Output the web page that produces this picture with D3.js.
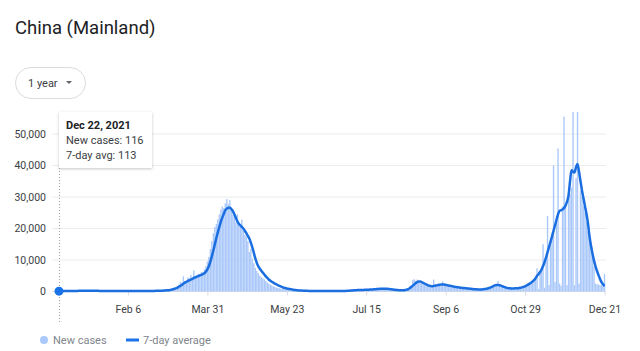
<!DOCTYPE html>
<html>
<head>
<meta charset="utf-8">
<script src="https://cdn.jsdelivr.net/npm/d3@7"></script>
<style>
  body { margin: 0; background: #fff; font-family: Roboto, Arial, sans-serif; }
</style>
</head>
<body>
<svg id="chart" width="640" height="351"></svg>
<script>
// Daily new cases, Dec 22 2021 .. Dec 21 2022 (one array per month)
const casesDec2021 = [116,150,180,200,210,230,220,240,200,210];
const casesJan = [190,180,200,220,210,230,250,240,220,200,190,210,230,220,200,180,170,190,210,200,180,160,150,170,190,180,160,150,140,130,120];
const casesFeb = [110,100,120,140,130,150,170,160,140,130,120,140,160,170,150,130,120,140,160,180,200,220,250,270,300,280,260,240];
const casesMar = [230,250,300,350,450,500,700,900,1100,1300,1500,2200,3100,2500,4800,3300,3200,4500,3900,5200,4400,6700,4800,5000,5600,5300,6200,6000,7000,8000,9500];
const casesApr = [11000,13500,16000,18500,20500,21500,23000,24500,26000,27000,26500,28000,29400,27800,29000,26000,24500,23800,22000,24500,21500,20500,22800,19500,18000,17500,16000,12500,13500,10500];
const casesMay = [9000,7500,6500,5800,5000,4500,4200,3800,3300,2800,2500,2200,1900,1700,1500,1300,1100,1000,900,800,700,600,550,500,450,400,350,300,280,250,230];
const casesJun = [200,180,170,150,160,150,140,130,120,110,120,110,100,100,110,120,130,120,110,120,130,150,140,120,110,100,120,140,160,180];
const casesJul = [200,250,300,350,400,380,420,450,500,550,520,480,450,500,550,600,650,700,750,800,850,900,950,1000,900,850,800,750,700,650,600];
const casesAug = [550,500,450,400,380,350,330,320,350,400,600,900,1500,2000,3600,3900,3400,3800,3000,2700,2500,2300,2100,1900,1800,1600,1500,1700,3800,1600,1700];
const casesSep = [1900,2100,2300,3200,2100,2000,1900,1800,1700,1600,1500,1400,1300,1300,1200,1100,1100,1000,950,900,850,800,750,700,650,650,600,600,600,650];
const casesOct = [700,800,900,1000,1200,1500,1800,2100,2300,2400,3400,2000,1700,1500,1300,1200,1100,1000,950,1000,1000,1050,1100,1200,1300,1400,1600,1800,2100,2300,2600];
const casesNov = [2400,2800,2700,3300,3900,7400,800,5500,6800,15000,1200,10000,24000,2000,16000,18500,40000,3000,22000,45400,2500,1800,27000,55500,27500,2000,30000,31000,33000,57000];
const casesDec2022 = [2000,36000,57000,2500,32000,30000,27000,25000,22000,19000,16000,14000,12000,8000,2500,2300,2200,2000,2000,1800,5600];

// 7-day average, same days
const avgDec2021 = [113,115,120,130,140,150,160,170,175,180];
const avgJan = [185,190,195,200,205,210,212,214,212,210,208,206,205,204,203,202,200,198,196,195,192,188,184,180,176,172,168,164,160,156,152];
const avgFeb = [148,145,142,140,138,137,136,136,137,138,139,140,141,142,143,144,145,147,150,155,160,170,180,195,210,225,240,255];
const avgMar = [270,290,320,360,420,500,600,720,860,1000,1200,1500,1800,2100,2500,2800,3100,3300,3600,3800,4000,4300,4500,4700,4900,5100,5300,5500,5800,6300,7000];
const avgApr = [8000,9500,11200,13000,15000,17000,18800,20500,22200,23500,24700,25800,26300,26600,26600,26200,25500,24500,23400,22300,21500,21000,20500,20000,19300,18500,17700,16800,15500,14000];
const avgMay = [12300,10500,9100,8000,7200,6600,6000,5400,4800,4300,3800,3400,3100,2800,2500,2300,2000,1800,1600,1400,1200,1100,950,850,800,700,600,500,450,400,350];
const avgJun = [320,290,260,240,220,200,190,180,170,160,150,145,140,135,130,130,130,130,130,130,130,135,140,140,135,130,130,135,140,150];
const avgJul = [170,200,230,270,310,350,380,410,440,470,490,500,510,520,540,560,590,620,650,680,720,760,800,840,880,900,900,880,850,800,740];
const avgAug = [680,610,550,490,440,400,370,360,380,450,580,780,1050,1400,1800,2250,2650,2950,3150,3150,3000,2750,2500,2250,2000,1850,1750,1650,1750,1850,1950];
const avgSep = [2050,2150,2250,2250,2200,2100,2000,1900,1800,1700,1600,1500,1400,1350,1300,1200,1150,1100,1050,1000,950,900,850,800,750,700,680,660,650,660];
const avgOct = [700,760,850,950,1100,1300,1500,1750,1950,2100,2100,2000,1850,1650,1450,1300,1150,1050,1000,980,980,1000,1020,1050,1100,1200,1300,1450,1650,1900,2200];
const avgNov = [2500,2800,3200,3600,4200,5000,5500,6200,7000,8100,9300,10800,12500,14200,15800,17500,19300,21000,22800,24500,25600,25800,26000,26500,27300,28500,30500,35000,38500,38000];
const avgDec2022 = [37800,39500,40500,38000,35000,32000,29500,27000,24500,21500,17500,14500,12000,9800,8000,6500,5200,4000,3000,2300,1700];

const yTicks = [0, 10000, 20000, 30000, 40000, 50000];
const xTickLabels = ["2022-02-06", "2022-03-31", "2022-05-23", "2022-07-15", "2022-09-06", "2022-10-29", "2022-12-21"];
const firstDay = "2021-12-22";

const newCases = [].concat(casesDec2021, casesJan, casesFeb, casesMar, casesApr, casesMay,
  casesJun, casesJul, casesAug, casesSep, casesOct, casesNov, casesDec2022);
const avgCases = [].concat(avgDec2021, avgJan, avgFeb, avgMar, avgApr, avgMay,
  avgJun, avgJul, avgAug, avgSep, avgOct, avgNov, avgDec2022);

const parse = d3.timeParse("%Y-%m-%d");
const start = parse(firstDay);
const data = newCases.map((v, i) => ({ date: d3.timeDay.offset(start, i), cases: v, avg: avgCases[i] }));

const svg = d3.select("#chart");

// Title and range dropdown
svg.append("text")
  .attr("x", 15).attr("y", 34)
  .style("font-size", "18.5px")
  .attr("fill", "#202124")
  .text("China (Mainland)");

svg.append("rect")
  .attr("x", 15.5).attr("y", 67.5).attr("width", 70).attr("height", 31).attr("rx", 15.5)
  .attr("fill", "#fff").attr("stroke", "#dadce0");
svg.append("text")
  .attr("x", 28).attr("y", 86.5)
  .style("font-size", "11px").attr("fill", "#3c4043")
  .text("1 year");
svg.append("path").attr("d", "M66,81L72,81L69,84Z").attr("fill", "#5f6368");

// Scales
const x = d3.scaleTime()
  .domain([start, data[data.length - 1].date])
  .range([59, 604.5]);
const y = d3.scaleLinear()
  .domain([0, 60000])
  .range([291.5, 102.5]);

// Gridlines
svg.append("g")
  .selectAll("line")
  .data(yTicks)
  .enter()
  .append("line")
  .attr("x1", 52).attr("x2", 606)
  .attr("y1", d => y(d)).attr("y2", d => y(d))
  .attr("stroke", d => d === 0 ? "#e0e0e0" : "#ececec")
  .attr("stroke-width", 1);

// Y axis labels
const yAxis = svg.append("g")
  .attr("transform", "translate(52,0)")
  .call(d3.axisLeft(y).tickValues(yTicks).tickFormat(d3.format(",")).tickSize(0).tickPadding(6));
yAxis.select(".domain").remove();
yAxis.selectAll("text")
  .style("font-family", "Roboto, Arial, sans-serif")
  .style("font-size", "10.5px")
  .attr("fill", "#3c4043");

// X axis
const xAxis = svg.append("g")
  .attr("transform", `translate(0,${y(0)})`)
  .call(d3.axisBottom(x).tickValues(xTickLabels.map(parse)).tickFormat(d3.timeFormat("%b %-d")).tickSize(4).tickPadding(10));
xAxis.select(".domain").remove();
xAxis.selectAll("line").attr("stroke", "#dadce0");
xAxis.selectAll("text")
  .style("font-family", "Roboto, Arial, sans-serif")
  .style("font-size", "10.5px")
  .attr("fill", "#3c4043");

// Bars (one per day, nearly touching)
const dayWidth = x(data[1].date) - x(data[0].date);
svg.append("g")
  .selectAll("rect")
  .data(data)
  .enter()
  .append("rect")
  .attr("x", d => x(d.date) - dayWidth * 0.46)
  .attr("width", dayWidth * 0.92)
  .attr("y", d => y(d.cases))
  .attr("height", d => y(0) - y(d.cases))
  .attr("fill", "#aac8fa");

// Hover guide line
svg.append("line")
  .attr("x1", 59.5).attr("x2", 59.5)
  .attr("y1", 168).attr("y2", 322)
  .attr("stroke", "#9aa0a6")
  .attr("stroke-dasharray", "1,2");

// 7-day average line
const line = d3.line()
  .x(d => x(d.date))
  .y(d => y(d.avg))
  .curve(d3.curveMonotoneX);

svg.append("path")
  .datum(data)
  .attr("d", line)
  .attr("fill", "none")
  .attr("stroke", "#1a6ee0")
  .attr("stroke-width", 2.5)
  .attr("stroke-linejoin", "round");

svg.append("circle")
  .attr("cx", x(data[0].date)).attr("cy", y(data[0].avg))
  .attr("r", 4.5)
  .attr("fill", "#1a73e8");

// Tooltip
const defs = svg.append("defs");
defs.append("filter").attr("id", "shadow")
  .attr("x", "-20%").attr("y", "-20%").attr("width", "140%").attr("height", "140%")
  .append("feDropShadow")
  .attr("dx", 0).attr("dy", 1).attr("stdDeviation", 1.5)
  .attr("flood-color", "#3c4043").attr("flood-opacity", 0.3);

const tip = svg.append("g");
tip.append("rect")
  .attr("x", 59).attr("y", 112).attr("width", 93).attr("height", 56)
  .attr("fill", "#fff")
  .attr("filter", "url(#shadow)");
tip.append("text")
  .attr("x", 66).attr("y", 128.5)
  .style("font-size", "11px").style("font-weight", "bold")
  .attr("fill", "#202124")
  .text(d3.timeFormat("%b %-d, %Y")(data[0].date));
tip.append("text")
  .attr("x", 66).attr("y", 144)
  .style("font-size", "11px").attr("fill", "#3c4043")
  .text("New cases: " + data[0].cases);
tip.append("text")
  .attr("x", 66).attr("y", 159)
  .style("font-size", "11px").attr("fill", "#3c4043")
  .text("7-day avg: " + data[0].avg);

// Legend
svg.append("circle").attr("cx", 44).attr("cy", 340).attr("r", 4).attr("fill", "#aac8fa");
svg.append("text").attr("x", 53).attr("y", 344)
  .style("font-size", "11px").attr("fill", "#80868b").text("New cases");
svg.append("line").attr("x1", 126).attr("x2", 139).attr("y1", 340).attr("y2", 340)
  .attr("stroke", "#1a73e8").attr("stroke-width", 3);
svg.append("text").attr("x", 143).attr("y", 344)
  .style("font-size", "11px").attr("fill", "#80868b").text("7-day average");
</script>
</body>
</html>
